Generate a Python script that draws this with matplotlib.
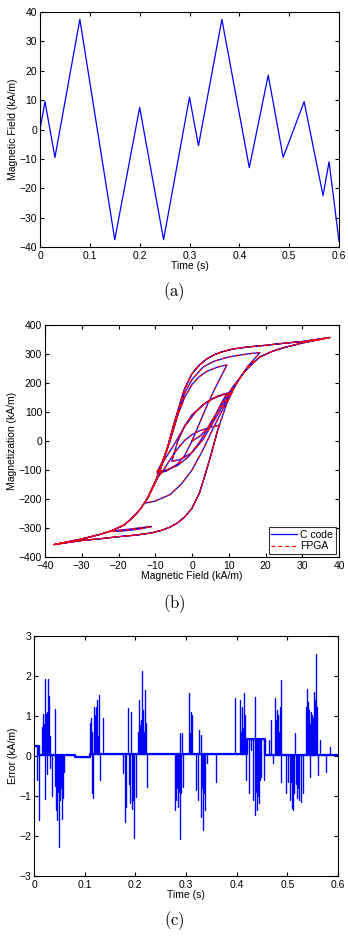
import numpy as np
import matplotlib
matplotlib.use("Agg")
import matplotlib.pyplot as plt

# ---------------- data: (a) applied field ----------------
field_t = [0, 0.01, 0.03, 0.08, 0.15, 0.20, 0.248, 0.30, 0.318, 0.365, 0.42, 0.458, 0.488, 0.53, 0.568, 0.58, 0.60]
field_h = [0, 9.5, -9.5, 37.5, -37.5, 7.5, -37.5, 11, -5.5, 37.5, -13, 18.5, -9.5, 9.5, -22.5, -11, -38]

# ---------------- data: (b) hysteresis trajectory branches (H, M) ----------------
asc_major_h = [-37.5, -30, -25, -20, -15, -11, -8, -6, -4, -2, 0, 2, 3, 5, 7, 9.5, 12, 14, 16, 18.5, 22, 25, 30, 37.5]
asc_major_m = [-357, -343, -337, -330, -324, -317, -307, -297, -283, -262, -232, -180, -140, -55, 38, 131, 195, 234, 262, 290, 310, 322, 338, 357]
desc_major_h = [37.5, 30, 25, 20, 15, 11, 8, 6, 4, 2, 0, -2, -3, -5, -7, -9.5, -12, -14, -16, -18.5, -22, -25, -30, -37.5]
desc_major_m = [357, 343, 337, 330, 324, 317, 307, 297, 283, 262, 232, 180, 140, 55, -38, -131, -195, -234, -262, -290, -310, -322, -338, -357]

b01_h = [0, 2, 4, 6, 8, 9.5]
b01_m = [0, 15, 40, 80, 130, 165]
b02_h = [9.5, 7, 4, 1, -2, -5, -7.5, -9.5]
b02_m = [165, 155, 135, 100, 50, -15, -65, -105]
b03_h = [-9.5, -7, -4, -1, 2, 5, 8, 11, 14, 16, 18.5, 22, 25, 30, 37.5]
b03_m = [-105, -100, -85, -55, -5, 60, 125, 185, 234, 262, 290, 310, 322, 338, 357]
b05_h = [-37.5, -30, -25, -20, -15, -11, -8, -6, -4, -2, 0, 2, 3, 5, 7, 7.5]
b05_m = [-357, -343, -337, -330, -324, -317, -307, -297, -283, -262, -232, -180, -140, -55, 38, 55]
b06_h = [7.5, 5, 2, 0, -2, -4, -6, -8, -9.5, -11, -12, -14, -16, -18.5, -22, -25, -30, -37.5]
b06_m = [55, 47, 35, 22, 2, -28, -65, -105, -128, -165, -195, -234, -262, -290, -310, -322, -338, -357]
b07_h = [-37.5, -30, -25, -20, -15, -11, -8, -6, -4, -2, 0, 2, 3, 5, 7, 9.5, 11]
b07_m = [-357, -343, -337, -330, -324, -317, -307, -297, -283, -262, -232, -180, -140, -55, 38, 131, 170]
b08_h = [11, 9, 6, 3, 0, -2, -4, -5.5]
b08_m = [170, 162, 148, 125, 90, 52, -5, -70]
b09_h = [-5.5, -3, 0, 3, 6, 9, 12, 14, 16, 18.5, 22, 25, 30, 37.5]
b09_m = [-70, -63, -40, 5, 70, 135, 198, 236, 262, 290, 310, 322, 338, 357]
b10_h = [37.5, 30, 25, 20, 15, 11, 8, 6, 4, 2, 0, -2, -3, -5, -7, -9.5, -12, -13]
b10_m = [357, 343, 337, 330, 324, 317, 307, 297, 283, 262, 232, 180, 140, 55, -38, -131, -195, -215]
b11_h = [-13, -10, -6, -3, 0, 3, 6, 9, 12, 15, 18.5]
b11_m = [-215, -207, -185, -150, -100, -30, 50, 125, 195, 255, 305]
b12_h = [18.5, 15, 10, 6, 3, 0, -2, -4, -6, -8, -9.5]
b12_m = [305, 300, 290, 275, 255, 212, 165, 85, 0, -68, -112]
b13_h = [-9.5, -7, -4, -2, 0, 2, 4, 6, 8, 9.5]
b13_m = [-112, -104, -80, -50, 0, 60, 120, 175, 225, 262]
b14_h = [9.5, 7, 4, 2, 0, -2, -4, -6, -8, -10, -12, -14, -16, -18.5, -22, -22.5]
b14_m = [262, 255, 240, 222, 195, 150, 85, 0, -72, -140, -195, -234, -262, -290, -310, -312]
b15_h = [-22.5, -20, -17, -14, -11]
b15_m = [-312, -311, -308, -303, -295]
b16_h = [-11, -14, -17, -20, -22.5, -25, -30, -37.5]
b16_m = [-295, -299, -304, -308, -312, -322, -338, -357]

# ---------------- data: (c) error ----------------
base_t = [0, 0.01, 0.01, 0.08, 0.08, 0.11, 0.11, 0.42, 0.42, 0.455, 0.455, 0.60]
base_v = [0.25, 0.25, 0.03, 0.03, -0.02, -0.02, 0.045, 0.045, 0.43, 0.43, 0.03, 0.03]

spike_t = [0.005, 0.010, 0.016, 0.018, 0.021, 0.022, 0.023, 0.024, 0.025, 0.026, 0.028, 0.029, 0.030, 0.031,
           0.019, 0.020, 0.027, 0.032,
           0.036, 0.041, 0.042, 0.044, 0.045, 0.047, 0.049, 0.050, 0.052, 0.053, 0.055, 0.057, 0.059, 0.046, 0.048, 0.051, 0.054,
           0.110, 0.112, 0.114, 0.116, 0.118, 0.121, 0.123, 0.125, 0.128, 0.130, 0.137, 0.115, 0.119, 0.120, 0.124, 0.126,
           0.176, 0.179, 0.182, 0.185, 0.189, 0.191, 0.193, 0.195, 0.198, 0.202, 0.205, 0.207, 0.210, 0.214, 0.216, 0.220,
           0.222, 0.224, 0.187, 0.197, 0.212, 0.218,
           0.278, 0.281, 0.284, 0.288, 0.289, 0.291, 0.293, 0.295, 0.283, 0.286, 0.290,
           0.305, 0.307, 0.310, 0.312, 0.320, 0.324, 0.326, 0.329, 0.330, 0.333, 0.336, 0.338, 0.341, 0.359, 0.309, 0.331, 0.335,
           0.396, 0.403, 0.407, 0.411, 0.414, 0.417, 0.418, 0.409, 0.413,
           0.424, 0.429, 0.432, 0.436, 0.437, 0.440, 0.442, 0.445, 0.449, 0.453, 0.438, 0.443, 0.446,
           0.464, 0.468, 0.472, 0.476, 0.478, 0.480, 0.482, 0.485, 0.487, 0.488, 0.479, 0.483,
           0.498, 0.501, 0.505, 0.508, 0.510, 0.511, 0.514, 0.516, 0.520, 0.522, 0.524, 0.526, 0.530, 0.512, 0.518,
           0.536, 0.539, 0.541, 0.543, 0.544, 0.546, 0.549, 0.551, 0.553, 0.555, 0.557, 0.559, 0.561, 0.565, 0.577, 0.584,
           0.538, 0.545, 0.548, 0.552]
spike_v = [-0.6, -1.6, 0.73, 1.05, -1.08, 1.92, 0.7, 1.05, 1.1, -0.45, 1.92, 1.5, 1.2, -0.3,
           0.6, 0.8, 0.9, 0.5,
           -1.0, 1.17, -0.75, -1.35, -1.6, -0.9, -2.27, -1.35, -1.1, -0.8, -1.57, -1.06, -0.4, -1.0, -0.7, -0.9, -0.6,
           0.82, 0.95, -0.93, -1.06, 1.23, 1.03, 1.23, 1.4, 1.53, -0.6, 0.94, 0.6, 0.8, 0.5, 0.7, 0.5,
           -0.43, -1.64, -1.27, 1.19, -1.18, 1.1, -1.33, -1.1, -2.06, -1.02, 0.6, 1.4, 0.77, 2.13, 1.15, 1.65,
           0.82, -0.77, -0.7, -0.8, 0.9, 0.6,
           -1.35, -1.1, -1.27, 0.58, -2.08, -0.93, 0.57, -0.77, -0.8, -0.9, -0.6,
           1.57, 0.57, 1.1, 1.03, -0.85, -1.1, 0.65, -1.52, 0.52, -1.85, -0.93, -1.35, -0.18, -0.64, 0.6, -0.8, -0.7,
           1.44, 0.07, 1.4, 1.23, 1.57, 1.03, -0.6, 0.6, 0.7,
           -0.93, 0.15, -1.1, -1.47, 1.48, -1.35, -0.72, -1.18, -0.52, -0.6, -0.9, -1.0, -0.6,
           0.4, 0.9, -0.18, 1.44, 0.9, 1.15, 1.03, 1.23, 1.9, -0.64, 0.7, 0.6,
           -0.93, -0.64, -1.1, -0.64, -1.3, -1.35, -0.93, 0.57, -1.06, -0.8, -1.1, -1.14, -0.93, -0.8, -0.7,
           1.23, 1.67, 1.36, 1.15, -0.52, 1.1, 1.03, 0.94, 1.6, 1.4, 2.54, 1.23, -0.48, 0.4, -0.4, 0.23,
           0.9, 0.8, 0.7, 0.8]

BLUE = (0, 0, 1)
RED = (1, 0, 0)

plt.rcParams['font.family'] = ['Liberation Sans', 'DejaVu Sans']
plt.rcParams['mathtext.fontset'] = 'cm'
plt.rcParams['font.size'] = 7
plt.rcParams['xtick.direction'] = 'in'
plt.rcParams['ytick.direction'] = 'in'
plt.rcParams['xtick.top'] = True
plt.rcParams['ytick.right'] = True
plt.rcParams['xtick.major.size'] = 3
plt.rcParams['ytick.major.size'] = 3
plt.rcParams['xtick.major.pad'] = 3
plt.rcParams['ytick.major.pad'] = 2
plt.rcParams['axes.linewidth'] = 0.8

W, H = 348, 942
fig = plt.figure(figsize=(W / 100, H / 100), dpi=100)

def rect(l, t, r, b):
    return [l / W, 1 - b / H, (r - l) / W, (b - t) / H]

def minus(v):
    return str(v).replace('-', '\u2212')

tick_fs = 7.5
lab_fs = 7.5

# (a)
ax1 = fig.add_axes(rect(40, 12, 339, 247))
ax1.plot(field_t, field_h, color=BLUE, lw=0.9)
ax1.set_xlim(0, 0.6)
ax1.set_ylim(-40, 40)
xt = [0, 0.1, 0.2, 0.3, 0.4, 0.5, 0.6]
xtl = ['0', '0.1', '0.2', '0.3', '0.4', '0.5', '0.6']
ax1.set_xticks(xt)
ax1.set_xticklabels(xtl, fontsize=tick_fs)
ax1.set_yticks(range(-40, 41, 10))
ax1.set_yticklabels([minus(v) for v in range(-40, 41, 10)], fontsize=tick_fs)
ax1.set_xlabel('Time (s)', fontsize=lab_fs, labelpad=0)
ax1.set_ylabel('Magnetic Field (kA/m)', fontsize=lab_fs, labelpad=1)

# (b)
ax2 = fig.add_axes(rect(45, 325, 339, 557))
branches = [(b01_h, b01_m), (b02_h, b02_m), (b03_h, b03_m), (desc_major_h, desc_major_m),
            (b05_h, b05_m), (b06_h, b06_m), (b07_h, b07_m), (b08_h, b08_m), (b09_h, b09_m),
            (b10_h, b10_m), (b11_h, b11_m), (b12_h, b12_m), (b13_h, b13_m), (b14_h, b14_m),
            (b15_h, b15_m), (b16_h, b16_m)]
path_h = np.concatenate([np.asarray(b[0], float) for b in branches])
path_m = np.concatenate([np.asarray(b[1], float) for b in branches])
ax2.plot(path_h, path_m, color=BLUE, lw=0.9, label='C code')
ax2.plot(path_h, path_m, color=RED, lw=0.9, ls=(0, (3, 2.5)), label='FPGA')
ax2.set_xlim(-40, 40)
ax2.set_ylim(-400, 400)
ax2.set_xticks(range(-40, 41, 10))
ax2.set_xticklabels([minus(v) for v in range(-40, 41, 10)], fontsize=tick_fs)
ax2.set_yticks(range(-400, 401, 100))
ax2.set_yticklabels([minus(v) for v in range(-400, 401, 100)], fontsize=tick_fs)
ax2.set_xlabel('Magnetic Field (kA/m)', fontsize=lab_fs, labelpad=0)
ax2.set_ylabel('Magnetization (kA/m)', fontsize=lab_fs, labelpad=1)
leg = ax2.legend(loc='lower right', fontsize=7.5, frameon=True, fancybox=False,
                 edgecolor='black', borderpad=0.25, handlelength=2.5, handletextpad=0.3,
                 labelspacing=0.15, borderaxespad=0.3)
leg.get_frame().set_linewidth(0.8)

# (c)
ax3 = fig.add_axes(rect(34, 636, 338, 876))
bt = np.asarray(base_t)
bv = np.asarray(base_v)
st = np.asarray(spike_t)
sv = np.asarray(spike_v)

def base_at(t):
    idx = np.searchsorted(bt, t, side='right') - 1
    return bv[np.clip(idx, 0, len(bv) - 1)]

et, ev = [], []
events = sorted([(t, 0, v) for t, v in zip(bt, bv)] + [(t, 1, v) for t, v in zip(st, sv)],
                key=lambda e: (e[0], e[1]))
for t, kind, v in events:
    if kind == 0:
        et.append(t); ev.append(v)
    else:
        b0 = base_at(t)
        et += [t, t, t]; ev += [b0, v, b0]
ax3.plot(et, ev, color=BLUE, lw=0.85)
ax3.plot(base_t, base_v, color=BLUE, lw=1.6)
ax3.set_xlim(0, 0.6)
ax3.set_ylim(-3, 3)
ax3.set_xticks(xt)
ax3.set_xticklabels(xtl, fontsize=tick_fs)
ax3.set_yticks(range(-3, 4))
ax3.set_yticklabels([minus(v) for v in range(-3, 4)], fontsize=tick_fs)
ax3.set_xlabel('Time (s)', fontsize=lab_fs, labelpad=0)
ax3.set_ylabel('Error (kA/m)', fontsize=lab_fs, labelpad=1)

# captions
for lbl, y in [('(a)', 292), ('(b)', 604), ('(c)', 921)]:
    fig.text(0.5, 1 - y / H, r'$\mathrm{' + lbl + '}$', ha='center', va='center', fontsize=12)

fig.savefig('out.png', dpi=100)
